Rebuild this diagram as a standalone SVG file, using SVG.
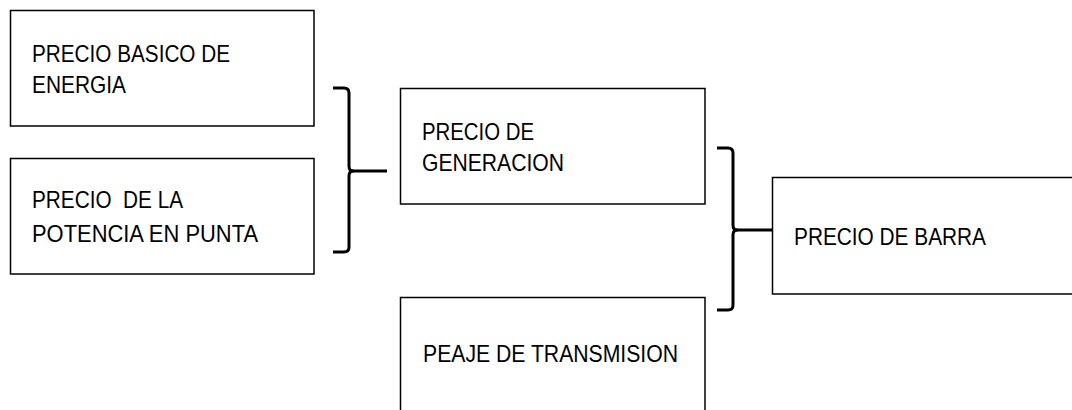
<svg xmlns="http://www.w3.org/2000/svg" width="1072" height="410" viewBox="0 0 1072 410">
<style>
.box{fill:#fff;stroke:#000;stroke-width:1.5}
.br{fill:none;stroke:#000;stroke-width:3;stroke-linejoin:round}
.t{font-family:"Liberation Sans",Arial,sans-serif;font-size:24px;fill:#000}
</style>
<rect width="1072" height="410" fill="#fff"/>
<g id="n1"><rect class="box" x="10.5" y="10.5" width="303.5" height="115.5"/>
<text class="t" x="32" y="62" textLength="198" lengthAdjust="spacingAndGlyphs">PRECIO BASICO DE</text>
<text class="t" x="32" y="93" textLength="94" lengthAdjust="spacingAndGlyphs">ENERGIA</text></g>
<g id="n2"><rect class="box" x="10.5" y="158.5" width="303.5" height="115.5"/>
<text class="t" x="32" y="208" textLength="151" lengthAdjust="spacingAndGlyphs" xml:space="preserve">PRECIO  DE LA</text>
<text class="t" x="32" y="242" textLength="226" lengthAdjust="spacingAndGlyphs">POTENCIA EN PUNTA</text></g>
<g id="n3"><rect class="box" x="400.5" y="88.5" width="304.5" height="115.5"/>
<text class="t" x="422" y="140" textLength="112" lengthAdjust="spacingAndGlyphs">PRECIO DE</text>
<text class="t" x="422" y="171" textLength="142" lengthAdjust="spacingAndGlyphs">GENERACION</text></g>
<g id="n4"><rect class="box" x="400.5" y="297.5" width="304.5" height="130"/>
<text class="t" x="423" y="362" textLength="255" lengthAdjust="spacingAndGlyphs">PEAJE DE TRANSMISION</text></g>
<g id="n5"><rect class="box" x="772.5" y="177.5" width="320" height="116.5"/>
<text class="t" x="794" y="245" textLength="192" lengthAdjust="spacingAndGlyphs">PRECIO DE BARRA</text></g>
<g id="connectors">
<path class="br" d="M333,88 H344 Q349,88 349,93 V166 Q349,171 353,171 Q349,171 349,176 V247 Q349,252 344,252 H333"/>
<path class="br" d="M352,171 H387"/>
<path class="br" d="M717,148 H728 Q733,148 733,153 V225 Q733,230 737,230 Q733,230 733,235 V305 Q733,310 728,310 H717"/>
<path class="br" d="M736,230 H772"/>
</g>
</svg>
